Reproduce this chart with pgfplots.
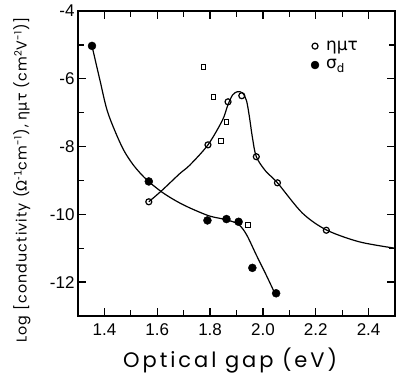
\documentclass[border=0pt]{standalone}
\usepackage{fontspec}
\setmainfont{Liberation Sans}
\newfontfamily\labfont[LetterSpace=8]{Poppins}
\newfontfamily\xlabfont[LetterSpace=14]{Poppins}
\newfontfamily\grk{DejaVu Sans}
\usepackage{pgfplots}
\pgfplotsset{compat=1.18}
\begin{document}
\begin{tikzpicture}
\begin{axis}[name=ax, scale only axis, width=317pt, height=305pt,
  xmin=1.3, xmax=2.5, ymin=-13, ymax=-4,
  xtick={1.4,1.6,1.8,2.0,2.2,2.4}, xticklabels={1.4,1.6,1.8,2.0,2.2,2.4},
  minor xtick={1.5,1.7,1.9,2.1,2.3},
  ytick={-12,-10,-8,-6,-4}, yticklabels={-12,-10,-8,-6,-4},
  minor ytick={-11,-9,-7,-5},
  axis line style={line width=1.6pt},
  every tick/.style={line width=1.3pt, black},
  major tick length=8pt, minor tick length=6pt,
  tick label style={font=\fontsize{17}{17}\selectfont},
  xticklabel style={yshift=-4pt},
  xlabel={\xlabfont Optical gap (eV)},
  xlabel style={at={(axis description cs:0.48,0)}, anchor=center, yshift=-45pt, font=\fontsize{21}{21}\selectfont},
  ylabel={\labfont Log [conductivity (\grk Ω\textsuperscript{-1}\labfont cm\textsuperscript{-1}), \grk ημτ \labfont (cm\textsuperscript{2}V\textsuperscript{-1})]},
  ylabel style={at={(axis description cs:0,0.446)}, anchor=center, yshift=56pt, font=\fontsize{14.3}{14.3}\selectfont},
  legend style={draw=none, fill=none, at={(axis cs:2.17,-4.75)}, anchor=north west, font=\fontsize{17}{17}\selectfont, row sep=4pt, column sep=5pt},
  legend cell align=left,
]
% curves
\addplot[line width=1.2pt, smooth, tension=0.5, forget plot] coordinates {
(1.353,-5.03) (1.383,-6.04) (1.413,-7.0) (1.466,-8.0) (1.51,-8.55) (1.56,-8.98)
(1.617,-9.34) (1.67,-9.6) (1.723,-9.81) (1.798,-10.05) (1.862,-10.16) (1.908,-10.3)
(1.938,-10.6) (1.975,-11.2) (2.013,-11.8) (2.045,-12.33)};
\addplot[line width=1.2pt, smooth, tension=0.5, forget plot] coordinates {
(1.568,-9.63) (1.617,-9.3) (1.685,-8.8) (1.723,-8.55) (1.792,-7.95) (1.847,-7.22)
(1.866,-6.8) (1.885,-6.48) (1.904,-6.38) (1.923,-6.42) (1.938,-6.65) (1.949,-7.13)
(1.96,-7.72) (1.975,-8.3) (2.01,-8.72) (2.055,-9.07) (2.149,-9.96) (2.24,-10.46)
(2.364,-10.81) (2.5,-11.0)};
% squares
\addplot[only marks, mark=square, mark size=2.4pt, line width=1.1pt, forget plot] coordinates {
(1.775,-5.66) (1.813,-6.54) (1.862,-7.27) (1.84,-7.83) (1.943,-10.31)};
% open circles
\addplot[only marks, mark=o, mark size=3pt, line width=1.2pt] coordinates {
(1.568,-9.63) (1.792,-7.95) (1.868,-6.68) (1.92,-6.5) (1.975,-8.3) (2.055,-9.07) (2.24,-10.47)};
\addlegendentry{\grk ημτ}
% filled
\addplot[only marks, mark=*, mark size=4pt] coordinates {
(1.353,-5.03) (1.568,-9.03) (1.79,-10.18) (1.862,-10.14) (1.908,-10.22) (1.96,-11.58) (2.05,-12.33)};
\addlegendentry{\grk σ\textsubscript{d}}
\end{axis}
\pgfresetboundingbox
\path ([xshift=-78pt,yshift=-64pt]ax.south west) rectangle ([xshift=1pt,yshift=11pt]ax.north east);
\end{tikzpicture}
\end{document}
